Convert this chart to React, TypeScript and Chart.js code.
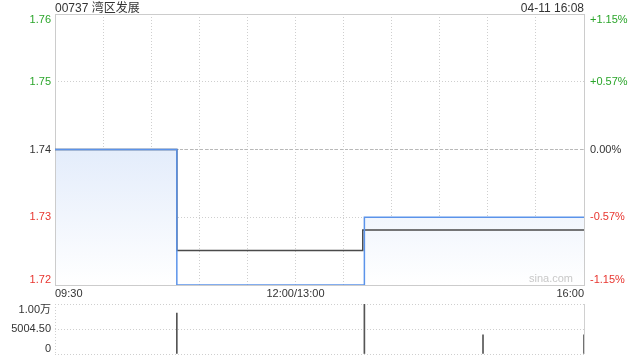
import React, { useEffect, useRef } from 'react';
import { Chart, registerables } from 'chart.js';

Chart.register(...registerables);

// ---------- data ----------
const titleText = '00737 湾区发展';
const stampText = '04-11 16:08';
const prevClose = 1.74;
const priceMin = 1.72;
const priceMax = 1.76;
const priceTicks = [1.72, 1.73, 1.74, 1.75, 1.76];

const totalMinutes = 330; // 09:30-12:00 + 13:00-16:00
const gridStepMinutes = 30;
const xLabelMinutes = [0, 150, 330];
const xLabels = ['09:30', '12:00/13:00', '16:00'];

// price changes (minute index since 09:30, trading minutes)
const priceMinutes = [0, 76, 193, 330];
const priceValues = [1.74, 1.72, 1.73, 1.73];
const avgMinutes = [0, 76, 192, 330];
const avgValues = [1.74, 1.7251, 1.7281, 1.7281];

// volume
const volMinutes = [76, 193, 267, 330];
const volValues = [8200, 10009, 3860, 3860];
const volMax = 10009;
const volTicks = [0, 5004.5, 10009];
const volTickLabels = ['0', '5004.50', '1.00万'];

// ---------- styles ----------
const FONT_FAMILY = '"Liberation Sans", Arial, "Noto Sans CJK SC", sans-serif';
const FONT = '11px ' + FONT_FAMILY;
const UP = '#2aa52a';
const DOWN = '#e8352f';
const FLAT = '#333333';
const GRID = '#cfcfcf';

const colorFor = (v: number) =>
  Math.abs(v - prevClose) < 1e-9 ? FLAT : v > prevClose ? UP : DOWN;

export default function App() {
  const mainRef = useRef<HTMLCanvasElement | null>(null);
  const volRef = useRef<HTMLCanvasElement | null>(null);

  useEffect(() => {
    document.body.style.margin = '0';
    const mainCanvas = mainRef.current!;
    const volCanvas = volRef.current!;

    const framePlugin = {
      id: 'frame',
      beforeDatasetsDraw(chart: any) {
        const { ctx, chartArea: ca } = chart;
        ctx.save();
        ctx.strokeStyle = '#cccccc';
        ctx.lineWidth = 1;
        ctx.strokeRect(Math.round(ca.left) + 0.5, Math.round(ca.top) + 0.5,
          Math.round(ca.right) - Math.round(ca.left), Math.round(ca.bottom) - Math.round(ca.top));
        ctx.font = FONT;
        ctx.fillStyle = '#c8c8c8';
        ctx.textAlign = 'right';
        ctx.textBaseline = 'middle';
        ctx.fillText('sina.com', ca.right - 11, ca.bottom - 6);
        ctx.restore();
      },
    };

    const mainLabels = {
      id: 'mainLabels',
      afterDraw(chart: any) {
        const { ctx, chartArea: ca } = chart;
        const ys = chart.scales.y;
        ctx.save();
        ctx.font = FONT;
        priceTicks.forEach((v, i) => {
          const py = ys.getPixelForValue(v);
          ctx.textBaseline = i === 0 ? 'bottom' : i === priceTicks.length - 1 ? 'top' : 'middle';
          ctx.fillStyle = colorFor(v);
          ctx.textAlign = 'right';
          ctx.fillText(v.toFixed(2), ca.left - 4, py);
          const pct = ((v - prevClose) / prevClose) * 100;
          const s = (pct > 1e-9 ? '+' : '') + pct.toFixed(2) + '%';
          ctx.textAlign = 'left';
          ctx.fillText(s, ca.right + 6, py);
        });
        ctx.restore();
      },
    };

    const mainChart = new Chart(mainCanvas, {
      type: 'line',
      data: {
        datasets: [
          {
            label: 'price',
            data: priceMinutes.map((m, i) => ({ x: m, y: priceValues[i] })),
            borderColor: '#5b93ea',
            borderWidth: 1.5,
            pointRadius: 0,
            stepped: true,
            fill: 'start',
            order: 1,
            backgroundColor: (ctx: any) => {
              const ca = ctx.chart.chartArea;
              if (!ca) return 'rgba(220,232,250,0.8)';
              const g = ctx.chart.ctx.createLinearGradient(0, ca.top, 0, ca.bottom);
              g.addColorStop(0, 'rgb(200,218,247)');
              g.addColorStop(1, 'rgb(255,255,255)');
              return g;
            },
          },
          {
            label: 'avg',
            data: avgMinutes.map((m, i) => ({ x: m, y: avgValues[i] })),
            borderColor: '#4a4a4a',
            borderWidth: 1.5,
            pointRadius: 0,
            stepped: true,
            fill: false,
            order: 2,
          },
          {
            label: 'prev',
            data: [
              { x: 0, y: prevClose },
              { x: totalMinutes, y: prevClose },
            ],
            borderColor: '#b8b8b8',
            borderWidth: 1,
            borderDash: [3, 2],
            pointRadius: 0,
            fill: false,
            order: 3,
          },
        ],
      },
      options: {
        responsive: false,
        animation: false,
        devicePixelRatio: 1,
        layout: { padding: { top: 14, left: 0, right: 0, bottom: 0 } },
        plugins: {
          legend: { display: false },
          tooltip: { enabled: false },
          filler: { drawTime: 'beforeDatasetsDraw' },
        },
        scales: {
          x: {
            type: 'linear',
            min: 0,
            max: totalMinutes,
            ticks: {
              stepSize: gridStepMinutes,
              autoSkip: false,
              maxRotation: 0,
              align: 'inner',
              padding: 2,
              color: '#333',
              font: { size: 11, family: FONT_FAMILY },
              callback: (v: any) => {
                const k = xLabelMinutes.indexOf(Number(v));
                return k >= 0 ? xLabels[k] : '';
              },
            },
            grid: { color: GRID, drawTicks: false },
            border: { display: false, dash: [1, 2] },
            afterFit: (s: any) => { s.height = 15; },
          },
          y: {
            type: 'linear',
            position: 'left',
            min: priceMin,
            max: priceMax,
            afterBuildTicks: (s: any) => { s.ticks = priceTicks.map((v) => ({ value: v })); },
            ticks: { display: false },
            grid: { color: GRID, drawTicks: false },
            border: { display: false, dash: [1, 2] },
            afterFit: (s: any) => { s.width = 55; },
          },
          y2: {
            type: 'linear',
            position: 'right',
            min: priceMin,
            max: priceMax,
            afterBuildTicks: (s: any) => { s.ticks = priceTicks.map((v) => ({ value: v })); },
            ticks: { display: false },
            grid: { display: false },
            border: { display: false },
            afterFit: (s: any) => { s.width = 56; },
          },
        },
      } as any,
      plugins: [framePlugin, mainLabels],
    });

    const volLabels = {
      id: 'volLabels',
      beforeDatasetsDraw(chart: any) {
        const { ctx, chartArea: ca } = chart;
        ctx.save();
        ctx.strokeStyle = '#d0d0d0';
        ctx.lineWidth = 1;
        ctx.beginPath();
        ctx.moveTo(Math.round(ca.right) + 0.5, ca.top);
        ctx.lineTo(Math.round(ca.right) + 0.5, ca.bottom);
        ctx.stroke();
        ctx.restore();
      },
      afterDraw(chart: any) {
        const { ctx, chartArea: ca } = chart;
        const ys = chart.scales.y;
        ctx.save();
        ctx.font = FONT;
        ctx.fillStyle = '#333';
        ctx.textAlign = 'right';
        volTicks.forEach((v, i) => {
          const py = ys.getPixelForValue(v);
          ctx.textBaseline = i === 0 ? 'bottom' : i === volTicks.length - 1 ? 'top' : 'middle';
          ctx.fillText(volTickLabels[i], ca.left - 4, py);
        });
        ctx.restore();
      },
    };

    const volChart = new Chart(volCanvas, {
      type: 'bar',
      data: {
        datasets: [
          {
            label: 'vol',
            data: volMinutes.map((m, i) => ({ x: m, y: volValues[i] })),
            backgroundColor: '#555555',
            borderWidth: 0,
            barThickness: 1,
          },
        ],
      },
      options: {
        responsive: false,
        animation: false,
        devicePixelRatio: 1,
        layout: { padding: { top: 4, left: 0, right: 56, bottom: 0 } },
        plugins: { legend: { display: false }, tooltip: { enabled: false } },
        scales: {
          x: {
            type: 'linear',
            min: 0,
            max: totalMinutes,
            offset: false,
            afterBuildTicks: (s: any) => { s.ticks = [{ value: 0 }, { value: totalMinutes }]; },
            ticks: { display: false },
            grid: { color: GRID, drawTicks: false, offset: false },
            border: { display: false, dash: [1, 2] },
            afterFit: (s: any) => { s.height = 6; },
          },
          y: {
            type: 'linear',
            min: 0,
            max: volMax,
            afterBuildTicks: (s: any) => { s.ticks = volTicks.map((v) => ({ value: v })); },
            ticks: { display: false },
            grid: { color: GRID, drawTicks: false },
            border: { display: false, dash: [1, 2] },
            afterFit: (s: any) => { s.width = 55; },
          },
        },
      } as any,
      plugins: [volLabels],
    });

    return () => {
      mainChart.destroy();
      volChart.destroy();
    };
  }, []);

  const textStyle: React.CSSProperties = {
    position: 'absolute',
    top: 1,
    fontFamily: FONT_FAMILY,
    fontSize: 12,
    lineHeight: '14px',
    color: '#333',
    whiteSpace: 'nowrap',
  };

  return (
    <div style={{ position: 'absolute', left: 0, top: 0, width: 640, height: 360, background: '#fff' }}>
      <canvas ref={mainRef} width={640} height={300}
        style={{ position: 'absolute', left: 0, top: 0, width: 640, height: 300, display: 'block' }} />
      <canvas ref={volRef} width={640} height={60}
        style={{ position: 'absolute', left: 0, top: 300, width: 640, height: 60, display: 'block' }} />
      <div style={{ ...textStyle, left: 55 }}>{titleText}</div>
      <div style={{ ...textStyle, right: 56 }}>{stampText}</div>
    </div>
  );
}
